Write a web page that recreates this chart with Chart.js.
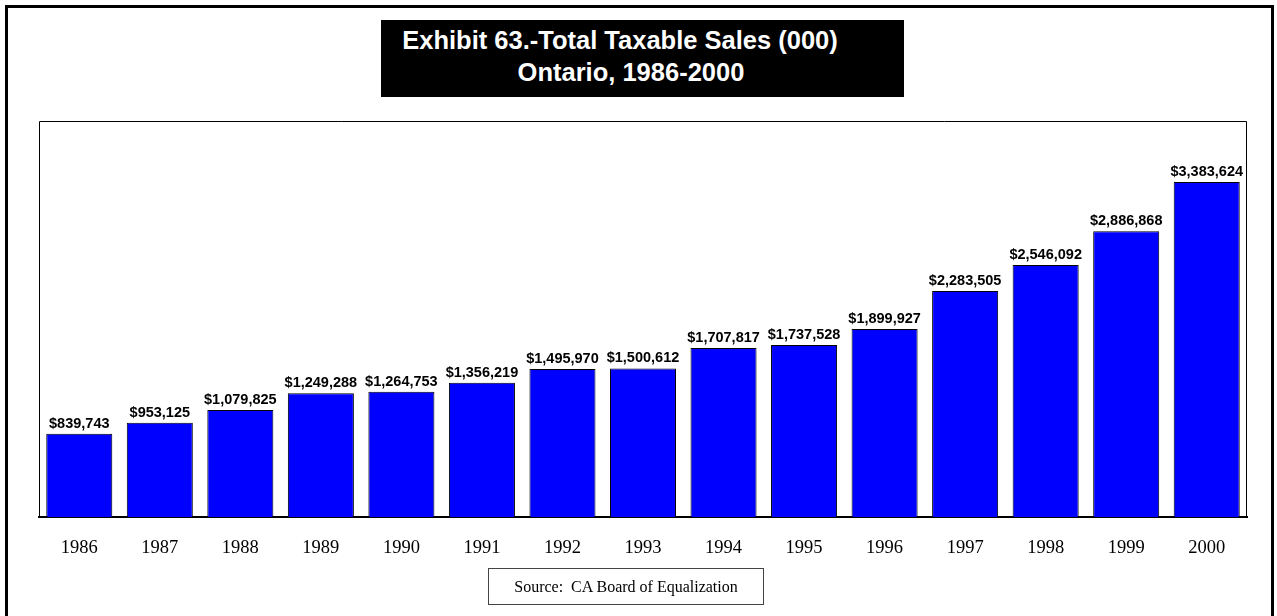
<!DOCTYPE html>
<html>
<head>
<meta charset="utf-8">
<title>Total Taxable Sales - Ontario</title>
<script src="https://cdn.jsdelivr.net/npm/chart.js@4.4.0/dist/chart.umd.min.js"></script>
<style>
  html, body { margin: 0; padding: 0; background: #fff; }
  #wrap { position: relative; width: 1277px; height: 616px; overflow: hidden; }
  #chart { position: absolute; left: 0; top: 0; }
  .frame {
    position: absolute; left: 5px; top: 5px; width: 1263px; height: 640px;
    border: 3px solid #000;
  }
  .title-box {
    position: absolute; left: 381px; top: 20px; width: 523px; height: 77px;
    background: #000; color: #fff;
    font: bold 25.5px "Liberation Sans", Arial, sans-serif;
    line-height: 32px; text-align: center;
  }
  .title-box .l1 { width: 478px; margin-top: 4px; white-space: nowrap; }
  .title-box .l2 { width: 500px; white-space: nowrap; }
  .source-box {
    position: absolute; left: 488px; top: 568px; width: 274px; height: 35px;
    border: 1px solid #444;
    font: 16px "Liberation Serif", "Times New Roman", serif;
    line-height: 35px; text-align: center; color: #000;
  }
</style>
</head>
<body>
<div id="wrap">
  <canvas id="chart" width="1277" height="616"></canvas>
  <div class="frame"></div>
  <div class="title-box">
    <div class="l1">Exhibit 63.-Total Taxable Sales (000)</div>
    <div class="l2">Ontario, 1986-2000</div>
  </div>
  <div class="source-box">Source:&nbsp; CA Board of Equalization</div>
</div>
<script>
// Taxable sales in thousands of dollars, one bar per year
const years = ['1986', '1987', '1988', '1989', '1990', '1991', '1992', '1993',
               '1994', '1995', '1996', '1997', '1998', '1999', '2000'];
const sales = [839743, 953125, 1079825, 1249288, 1264753, 1356219, 1495970, 1500612,
               1707817, 1737528, 1899927, 2283505, 2546092, 2886868, 3383624];
const yMax = 4000000;

const money = v => '$' + v.toLocaleString('en-US');

// thin box around the plot area (bottom edge comes from the x axis border)
const plotFrame = {
  id: 'plotFrame',
  afterDraw(chart) {
    const a = chart.chartArea, ctx = chart.ctx;
    ctx.save();
    ctx.strokeStyle = '#000';
    ctx.lineWidth = 1;
    ctx.beginPath();
    ctx.moveTo(a.left + 0.5, a.bottom);
    ctx.lineTo(a.left + 0.5, a.top + 0.5);
    ctx.lineTo(a.right - 0.5, a.top + 0.5);
    ctx.lineTo(a.right - 0.5, a.bottom);
    ctx.stroke();
    ctx.restore();
  }
};

// value labels above each bar
const barValues = {
  id: 'barValues',
  afterDatasetsDraw(chart) {
    const ctx = chart.ctx;
    const meta = chart.getDatasetMeta(0);
    ctx.save();
    ctx.font = 'bold 14.5px "Liberation Sans", Arial, sans-serif';
    ctx.fillStyle = '#000';
    ctx.textAlign = 'center';
    ctx.textBaseline = 'alphabetic';
    meta.data.forEach((bar, i) => {
      ctx.fillText(money(sales[i]), bar.x, bar.y - 6);
    });
    ctx.restore();
  }
};

new Chart(document.getElementById('chart'), {
  type: 'bar',
  data: {
    labels: years,
    datasets: [{
      data: sales,
      backgroundColor: '#0000ff',
      borderColor: '#000',
      borderWidth: 1,
      categoryPercentage: 1,
      barPercentage: 0.82
    }]
  },
  options: {
    responsive: false,
    devicePixelRatio: 1,
    animation: false,
    layout: { padding: { left: 39, right: 30, top: 121, bottom: 0 } },
    plugins: {
      legend: { display: false },
      title: { display: false },
      tooltip: { enabled: false }
    },
    scales: {
      y: { display: false, min: 0, max: yMax },
      x: {
        grid: { display: false, drawTicks: false },
        border: { display: true, color: '#000', width: 2 },
        ticks: {
          color: '#000',
          padding: 20,
          maxRotation: 0,
          font: { family: '"Liberation Serif", "Times New Roman", serif', size: 18.5 }
        },
        afterFit(scale) { scale.height = 99; }
      }
    }
  },
  plugins: [plotFrame, barValues]
});
</script>
</body>
</html>
